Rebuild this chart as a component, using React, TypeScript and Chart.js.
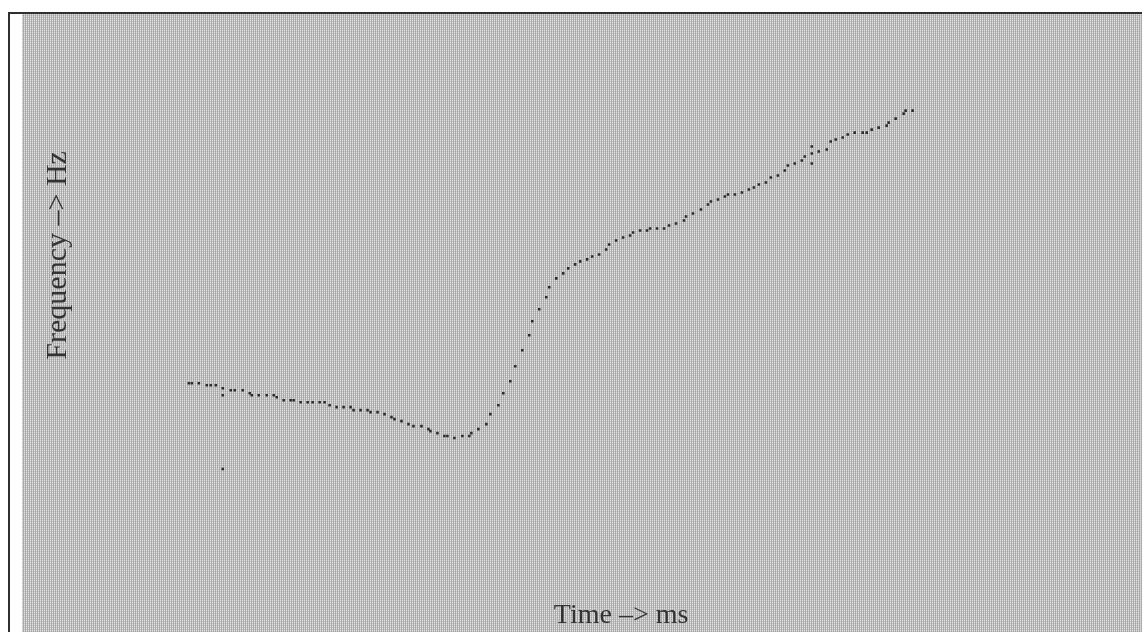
import React, { useEffect, useRef } from "react";
import { Chart, registerables } from "chart.js";

Chart.register(...registerables);

// Pitch track: frame times (ms) and estimated fundamental frequency (Hz)
const times: number[] = [
  108.75, 112.5, 121.25, 131.25, 136.25, 142.5, 151.25, 151.25, 151.25, 161.25,
  166.25, 176.25, 185, 187.5, 196.25, 206.25, 215, 218.75, 227.5, 236.25,
  240, 248.75, 257.5, 263.75, 272.5, 278.75, 285, 293.75, 302.5, 311.25,
  315, 323.75, 332.5, 336.25, 345, 353.75, 362.5, 366.25, 375, 383.75,
  390, 400, 408.75, 411.25, 420, 428.75, 432.5, 441.25, 451.25, 460,
  462.5, 471.25, 481.25, 486.25, 496.25, 502.5, 511.25, 517.5, 526.25, 535,
  538.75, 547.5, 556.25, 560, 568.75, 577.5, 583.75, 592.5, 598.75, 607.5,
  613.75, 622.5, 631.25, 635, 643.75, 652.5, 661.25, 665, 673.75, 682.5,
  686.25, 695, 703.75, 710, 718.75, 728.75, 731.25, 740, 750, 758.75,
  762.5, 771.25, 780, 783.75, 792.5, 801.25, 810, 816.25, 822.5, 831.25,
  837.5, 846.25, 855, 858.75, 867.5, 876.25, 880, 888.75, 888.75, 888.75,
  897.5, 907.5, 912.5, 918.75, 927.5, 933.75, 942.5, 952.5, 957.5, 963.75,
  972.5, 982.5, 985, 993.75, 1003.75, 1006.25, 1015,
];

const freqs: number[] = [
  106, 106, 106, 105, 105, 105, 103.5, 100, 63, 102.5,
  102.5, 102.5, 101, 100, 100, 100, 100, 99, 97.5, 97.5,
  97.5, 96.5, 96.5, 96.5, 96.5, 96.5, 95, 94, 94, 94,
  92.5, 92.5, 92.5, 91.5, 91.5, 90.5, 89, 88, 87, 85.5,
  84.5, 84.5, 83, 82, 81, 79.5, 79.5, 78.5, 79.5, 79.5,
  81, 83, 85.5, 90.5, 95, 101, 107, 114.5, 122.5, 130,
  137, 143, 149, 154, 158.5, 161, 163.5, 165.5, 167, 168,
  169.5, 170.5, 173, 175.5, 177.5, 179, 180, 181.5, 182.5, 182.5,
  183.5, 183.5, 183.5, 185, 186, 187.5, 189.5, 191, 193, 195.5,
  197, 198, 199.5, 200.5, 200.5, 201.5, 203, 204, 205.5, 206.5,
  209, 210, 212.5, 215, 216, 217.5, 219.5, 224.5, 221, 216,
  222, 223, 227, 228, 229, 230.5, 231.5, 231.5, 231.5, 233,
  234, 235, 236.5, 238.5, 241, 242.5, 242.5,
];

const timeRange: [number, number] = [0, 1300];
const freqRange: [number, number] = [50, 290];

const xTitle = "Time –> ms";
const yTitle = "Frequency –> Hz";

const FONT = "'Liberation Serif', 'Times New Roman', serif";
const INK = "#333333";

function makeTexture(ctx: CanvasRenderingContext2D): CanvasPattern | string {
  const tile = document.createElement("canvas");
  tile.width = 2;
  tile.height = 2;
  const t = tile.getContext("2d");
  if (!t) return "#c4c4c4";
  t.fillStyle = "#e0e0e0";
  t.fillRect(0, 0, 1, 1);
  t.fillStyle = "#c6c6c6";
  t.fillRect(0, 1, 1, 1);
  t.fillStyle = "#b0b0b0";
  t.fillRect(1, 0, 1, 1);
  t.fillStyle = "#a6a6a6";
  t.fillRect(1, 1, 1, 1);
  return ctx.createPattern(tile, "repeat") || "#c4c4c4";
}

const texturedBackground = {
  id: "texturedBackground",
  beforeDraw(chart: Chart) {
    const ctx = chart.ctx;
    ctx.save();
    ctx.fillStyle = makeTexture(ctx);
    ctx.fillRect(0, 0, chart.width, chart.height);
    ctx.restore();
  },
};

export default function App() {
  const canvasRef = useRef<HTMLCanvasElement | null>(null);

  useEffect(() => {
    const canvas = canvasRef.current;
    if (!canvas) return;
    const points = times.map((t, i) => ({ x: t, y: freqs[i] }));
    const chart = new Chart(canvas, {
      type: "scatter",
      data: {
        datasets: [
          {
            data: points,
            pointStyle: "rect",
            pointRadius: 1.8,
            pointHoverRadius: 1.8,
            backgroundColor: "#2b2b2b",
            borderWidth: 0,
          },
        ],
      },
      options: {
        responsive: false,
        animation: false,
        events: [],
        layout: { padding: { top: 1, left: 0, right: 0, bottom: 0 } },
        plugins: {
          legend: { display: false },
          tooltip: { enabled: false },
        },
        scales: {
          x: {
            type: "linear",
            min: timeRange[0],
            max: timeRange[1],
            grid: { display: false },
            border: { display: false },
            ticks: { display: false },
            title: {
              display: true,
              text: xTitle,
              color: INK,
              font: { family: FONT, size: 28 },
              padding: { top: 0, bottom: 0 },
            },
            afterFit: (s: any) => {
              s.height = 137;
            },
          },
          y: {
            type: "linear",
            min: freqRange[0],
            max: freqRange[1],
            grid: { display: false },
            border: { display: false },
            ticks: { display: false },
            title: {
              display: true,
              text: yTitle,
              color: INK,
              font: { family: FONT, size: 30 },
              padding: { top: 18, bottom: 0 },
            },
            afterFit: (s: any) => {
              s.width = 80;
            },
          },
        },
      },
      plugins: [texturedBackground],
    });
    return () => chart.destroy();
  }, []);

  return (
    <div
      style={{
        position: "fixed",
        left: 8,
        top: 12,
        width: 1134,
        height: 620,
        boxSizing: "border-box",
        borderTop: "2px solid #303030",
        borderLeft: "2px solid #303030",
        paddingLeft: 12,
        background: "#ffffff",
        overflow: "hidden",
      }}
    >
      <canvas
        ref={canvasRef}
        width={1120}
        height={618}
        style={{ display: "block", width: 1120, height: 618 }}
      />
    </div>
  );
}
